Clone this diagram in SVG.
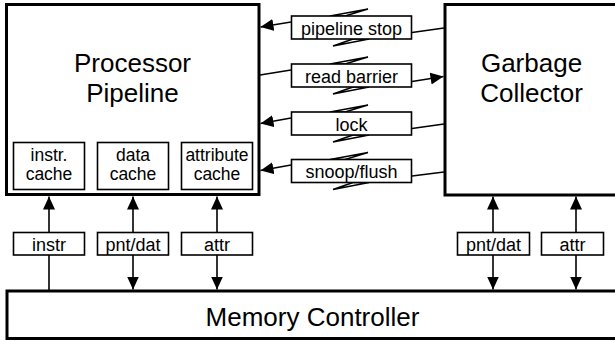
<svg xmlns="http://www.w3.org/2000/svg" width="615" height="341" viewBox="0 0 615 341">
  <style>
    text { font-family: "Liberation Sans", Arial, sans-serif; fill: #000; text-anchor: middle; }
    .big { font-size: 26px; }
    .lbl { font-size: 18px; }
    .cl { font-size: 17.5px; }
    .unit { fill: #fff; stroke: #000; stroke-width: 3; }
    .box { fill: #fff; stroke: #000; stroke-width: 1.6; }
    .bolt { fill: #fff; stroke: #000; stroke-width: 1.5; stroke-linejoin: miter; }
    .wire { fill: none; stroke: #000; stroke-width: 1.6; }
    .one { marker-end: url(#head); }
    .two { marker-start: url(#head); marker-end: url(#head); }
  </style>
  <defs>
    <marker id="head" viewBox="0 0 13 12" refX="13" refY="6" markerWidth="13" markerHeight="12" markerUnits="userSpaceOnUse" orient="auto-start-reverse">
      <path d="M0,0 L13,6 L0,12 z" fill="#000"/>
    </marker>
    <!-- lightning mark crossing a signal label (box top at y=0, bottom at y=23) -->
    <g id="bolt">
      <polygon class="bolt" points="330,0 368,-7 345,0"/>
      <polygon class="bolt" points="353,23 333,30 369,23"/>
    </g>
  </defs>

  <rect width="615" height="341" fill="#fff"/>

  <!-- connectors -->
  <g id="connectors">
    <!-- pipeline stop: GC -> processor -->
    <line class="wire" x1="444" y1="28" x2="412" y2="32.5"/>
    <line class="wire one" x1="291" y1="22" x2="260.5" y2="27"/>
    <!-- read barrier: processor -> GC -->
    <line class="wire" x1="260" y1="75" x2="291" y2="70"/>
    <line class="wire one" x1="412" y1="81.5" x2="443.5" y2="76.5"/>
    <!-- lock: GC -> processor -->
    <line class="wire" x1="444" y1="124" x2="412" y2="128.5"/>
    <line class="wire one" x1="291" y1="118" x2="260.5" y2="123.5"/>
    <!-- snoop/flush: GC -> processor -->
    <line class="wire" x1="444" y1="172" x2="412" y2="176"/>
    <line class="wire one" x1="291" y1="165" x2="260.5" y2="170.5"/>

    <!-- memory buses -->
    <line class="wire one" x1="49" y1="290" x2="49" y2="196.5"/>
    <line class="wire two" x1="133" y1="196.5" x2="133" y2="289.5"/>
    <line class="wire two" x1="217" y1="196.5" x2="217" y2="289.5"/>
    <line class="wire two" x1="493" y1="196.5" x2="493" y2="289.5"/>
    <line class="wire two" x1="576" y1="196.5" x2="576" y2="289.5"/>
  </g>

  <!-- processor pipeline -->
  <g id="processor">
    <rect class="unit" x="6.5" y="4.5" width="252.5" height="190"/>
    <text class="big" x="132.5" y="72">Processor</text>
    <text class="big" x="132.5" y="102">Pipeline</text>
  </g>
  <g id="icache">
    <rect class="box" x="13.5" y="142.5" width="71" height="47"/>
    <text class="cl" x="49" y="160.5">instr.</text>
    <text class="cl" x="49" y="179.5">cache</text>
  </g>
  <g id="dcache">
    <rect class="box" x="97.5" y="142.5" width="71" height="47"/>
    <text class="cl" x="133" y="160.5">data</text>
    <text class="cl" x="133" y="179.5">cache</text>
  </g>
  <g id="acache">
    <rect class="box" x="181.5" y="142.5" width="71" height="47"/>
    <text class="cl" x="217" y="160.5">attribute</text>
    <text class="cl" x="217" y="179.5">cache</text>
  </g>

  <!-- garbage collector -->
  <g id="collector">
    <rect class="unit" x="445" y="4.5" width="175" height="190.5"/>
    <text class="big" x="531.5" y="71.5">Garbage</text>
    <text class="big" x="531.5" y="102">Collector</text>
  </g>

  <!-- memory controller -->
  <g id="memory">
    <rect class="unit" x="7" y="291" width="612" height="47.5"/>
    <text class="big" x="312.5" y="326">Memory Controller</text>
  </g>

  <!-- signal labels -->
  <g id="sig-pipeline-stop" transform="translate(0,16)">
    <use href="#bolt"/>
    <rect class="box" x="291.5" y="0" width="120" height="23"/>
    <text class="lbl" x="351.5" y="18.5">pipeline stop</text>
  </g>
  <g id="sig-read-barrier" transform="translate(0,64)">
    <use href="#bolt"/>
    <rect class="box" x="291.5" y="0" width="120" height="23"/>
    <text class="lbl" x="351.5" y="18.5">read barrier</text>
  </g>
  <g id="sig-lock" transform="translate(0,112)">
    <use href="#bolt"/>
    <rect class="box" x="291.5" y="0" width="120" height="23"/>
    <text class="lbl" x="351.5" y="18.5">lock</text>
  </g>
  <g id="sig-snoop-flush" transform="translate(0,159.5)">
    <use href="#bolt"/>
    <rect class="box" x="291.5" y="0" width="120" height="23"/>
    <text class="lbl" x="351.5" y="18.5">snoop/flush</text>
  </g>

  <!-- bus labels -->
  <g id="bus-instr">
    <rect class="box" x="13.5" y="232.5" width="71" height="22.5"/>
    <text class="lbl" x="49" y="250.5">instr</text>
  </g>
  <g id="bus-pntdat-p">
    <rect class="box" x="97.5" y="232.5" width="71" height="22.5"/>
    <text class="lbl" x="133" y="250.5">pnt/dat</text>
  </g>
  <g id="bus-attr-p">
    <rect class="box" x="181.5" y="232.5" width="71" height="22.5"/>
    <text class="lbl" x="217" y="250.5">attr</text>
  </g>
  <g id="bus-pntdat-gc">
    <rect class="box" x="457.5" y="232.5" width="72" height="22.5"/>
    <text class="lbl" x="493.5" y="250.5">pnt/dat</text>
  </g>
  <g id="bus-attr-gc">
    <rect class="box" x="541.5" y="232.5" width="62" height="22.5"/>
    <text class="lbl" x="572.5" y="250.5">attr</text>
  </g>
</svg>
